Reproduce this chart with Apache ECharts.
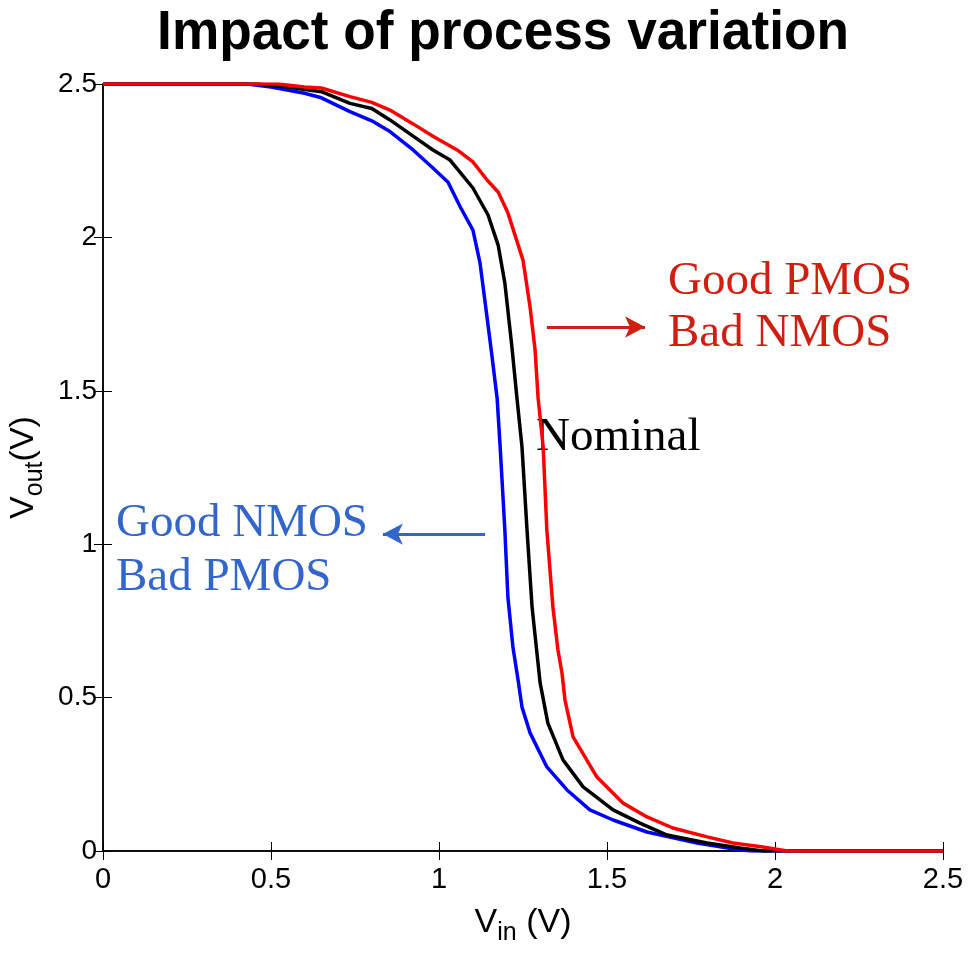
<!DOCTYPE html>
<html>
<head>
<meta charset="utf-8">
<script src="https://cdn.jsdelivr.net/npm/echarts@6/dist/echarts.min.js"></script>
<style>
html, body { margin: 0; padding: 0; background: #fff; }
#main { width: 972px; height: 954px; }
</style>
</head>
<body>
<div id="main"></div>
<script>
// Vin (V), Vout (V) pairs
var goodNmos = [[0,2.5],[0.43,2.5],[0.5,2.49],[0.6,2.47],[0.65,2.455],[0.735,2.41],[0.8,2.38],[0.854,2.345],[0.923,2.285],[0.982,2.226],[1.027,2.18],[1.063,2.10],[1.101,2.024],[1.122,1.917],[1.143,1.74],[1.158,1.61],[1.173,1.476],[1.182,1.317],[1.196,1.046],[1.205,0.828],[1.22,0.665],[1.235,0.56],[1.247,0.469],[1.271,0.385],[1.321,0.274],[1.381,0.199],[1.449,0.134],[1.518,0.101],[1.619,0.062],[1.768,0.026],[1.896,0.003],[1.93,0],[2.5,0]];
var nominal = [[0,2.5],[0.46,2.5],[0.55,2.49],[0.65,2.475],[0.735,2.437],[0.8,2.42],[0.854,2.383],[0.923,2.33],[0.982,2.285],[1.033,2.252],[1.101,2.161],[1.146,2.073],[1.176,1.975],[1.196,1.851],[1.217,1.643],[1.232,1.476],[1.247,1.317],[1.262,1.046],[1.277,0.795],[1.292,0.64],[1.301,0.548],[1.324,0.417],[1.369,0.297],[1.429,0.209],[1.518,0.134],[1.598,0.091],[1.679,0.052],[1.798,0.026],[1.896,0.01],[1.964,0],[2.5,0]];
var goodPmos = [[0,2.5],[0.52,2.5],[0.6,2.49],[0.65,2.487],[0.735,2.459],[0.8,2.44],[0.854,2.415],[0.923,2.37],[0.982,2.33],[1.054,2.285],[1.101,2.246],[1.143,2.187],[1.176,2.148],[1.205,2.08],[1.25,1.926],[1.271,1.773],[1.286,1.633],[1.295,1.476],[1.31,1.317],[1.321,1.046],[1.339,0.795],[1.354,0.655],[1.366,0.58],[1.375,0.492],[1.399,0.372],[1.47,0.241],[1.548,0.156],[1.619,0.111],[1.696,0.075],[1.798,0.046],[1.875,0.026],[1.964,0.013],[2.036,0],[2.5,0]];

var xTicks = [0, 0.5, 1, 1.5, 2, 2.5];
var yTicks = [0, 0.5, 1, 1.5, 2, 2.5];

// annotation arrows, in data units
var redArrow = [[1.321, 1.708], [1.613, 1.708]];
var blueArrow = [[1.137, 1.033], [0.833, 1.033]];

var chart = echarts.init(document.getElementById('main'));

var axisLine = { show: true, lineStyle: { color: '#000', width: 1.5 } };
var tick = { show: true, inside: true, length: 9, lineStyle: { color: '#000', width: 1 } };
var serif = 'Liberation Serif';

function arrow(pts, color) {
  return {
    silent: true,
    symbol: ['none', 'arrow'],
    symbolSize: [16, 20],
    label: { show: false },
    lineStyle: { color: color, width: 3, type: 'solid' },
    data: [[{ coord: pts[0] }, { coord: pts[1] }]]
  };
}

var nameRich = {
  v: { fontSize: 34, fontFamily: 'Liberation Sans', color: '#000', lineHeight: 40 },
  s: { fontSize: 25, fontFamily: 'Liberation Sans', color: '#000', lineHeight: 40, padding: [22, 0, 0, 0] }
};

var option = {
  backgroundColor: '#fff',
  animation: false,
  grid: { left: 103, right: 29, top: 84, bottom: 103, containLabel: false, outerBoundsMode: 'none' },
  xAxis: [{
    type: 'value', min: 0, max: 2.5, interval: 0.5,
    axisLine: axisLine, axisTick: tick, splitLine: { show: false },
    axisLabel: {
      margin: 14, color: '#000', fontSize: 29, fontFamily: 'Liberation Sans',
      formatter: function (v) { return xTicks.indexOf(v) >= 0 ? String(v) : ''; }
    },
    name: '{v|V}{s|in}{v| (V)}',
    nameLocation: 'middle',
    nameGap: 50,
    nameTextStyle: { rich: nameRich }
  }, {
    type: 'value', min: 0, max: 2.5, interval: 0.5, position: 'top',
    axisLine: axisLine, axisTick: tick, axisLabel: { show: false }, splitLine: { show: false }
  }],
  yAxis: [{
    type: 'value', min: 0, max: 2.5, interval: 0.5,
    axisLine: axisLine, axisTick: tick, splitLine: { show: false },
    axisLabel: {
      margin: 6, color: '#000', fontSize: 28, fontFamily: 'Liberation Sans',
      formatter: function (v) { return yTicks.indexOf(v) >= 0 ? String(v) : ''; }
    },
    name: '{v|V}{s|out}{v|(V)}',
    nameLocation: 'middle',
    nameRotate: 90,
    nameGap: 54,
    nameTextStyle: { rich: nameRich }
  }, {
    type: 'value', min: 0, max: 2.5, interval: 0.5, position: 'right',
    axisLine: axisLine, axisTick: tick, axisLabel: { show: false }, splitLine: { show: false }
  }],
  series: [{
    name: 'Good NMOS / Bad PMOS', type: 'line', data: goodNmos,
    showSymbol: false, symbol: 'none',
    lineStyle: { color: '#0000ff', width: 3.5 },
    markLine: arrow(blueArrow, '#3366cc')
  }, {
    name: 'Nominal', type: 'line', data: nominal,
    showSymbol: false, symbol: 'none',
    lineStyle: { color: '#000000', width: 3.5 }
  }, {
    name: 'Good PMOS / Bad NMOS', type: 'line', data: goodPmos,
    showSymbol: false, symbol: 'none',
    lineStyle: { color: '#ff0000', width: 3.5 },
    markLine: arrow(redArrow, '#d01f10')
  }],
  graphic: [
    { type: 'text', x: 503, y: 6, scaleX: 0.95,
      style: { text: 'Impact of process variation', font: 'bold 56px Liberation Sans', fill: '#000', align: 'center', verticalAlign: 'top' } },
    { type: 'text', left: 668, top: 256, style: { text: 'Good PMOS\nBad NMOS', font: '47px ' + serif, fill: '#d01f10', lineHeight: 52 } },
    { type: 'text', left: 536, top: 414, style: { text: 'Nominal', font: '47px ' + serif, fill: '#000' } },
    { type: 'text', left: 116, top: 497, style: { text: 'Good NMOS\nBad PMOS', font: '47px ' + serif, fill: '#3366cc', lineHeight: 54 } }
  ]
};

chart.setOption(option);
</script>
</body>
</html>
